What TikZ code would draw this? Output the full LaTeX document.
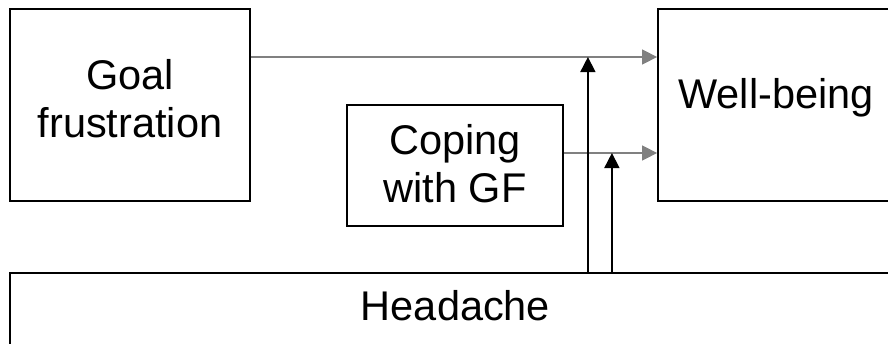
\documentclass[tikz,border=0pt]{standalone}
\usepackage{fontspec}
\setmainfont{Liberation Sans}
\usetikzlibrary{positioning,arrows.meta}

\begin{document}
\begin{tikzpicture}[
            x=1pt, y=-1pt,
            font=\fontsize{41.5}{47.7}\selectfont,
            box/.style={
                draw,
                line width=1.8pt,
                inner sep=0pt,
                align=center
            },
            arrow/.style={-{Triangle[length=15pt,width=15pt]}, line width=1.6pt},
            grayarrow/.style={arrow, draw=gray, fill=gray, line width=1.4pt}
        ]
        \useasboundingbox (0,0) rectangle (888,343);
        \clip (0,0) rectangle (888,343);

        \node[box, minimum width=240pt, minimum height=192pt,
              text depth=12.6pt] (goal) at (130,105) {Goal\\frustration};
        \node[box, minimum width=216pt, minimum height=121pt,
              text depth=3.6pt] (coping) at (455,165.5) {Coping\\with GF};
        \node[box, minimum width=236pt, minimum height=192pt,
              text height=30.3pt, text depth=24.3pt] (well) at (776,105) {Well-being};
        \node[box, minimum width=891pt, minimum height=80pt,
              text height=30.3pt, text depth=16.3pt] (head) at (455.5,313) {Headache};

        \coordinate (g1) at ([yshift=48pt]goal.east);
        \coordinate (c1) at ([yshift=12.5pt]coping.east);
        \path (g1) ++(337,0) coordinate (m1);
        \path (c1) ++(48,0) coordinate (m2);

        \draw[grayarrow] (g1) -- (g1 -| well.west);
        \draw[grayarrow] (c1) -- (c1 -| well.west);
        \draw[arrow] (m1 |- head.north) -- (m1);
        \draw[arrow] (m2 |- head.north) -- (m2);
        \end{tikzpicture}
\end{document}
